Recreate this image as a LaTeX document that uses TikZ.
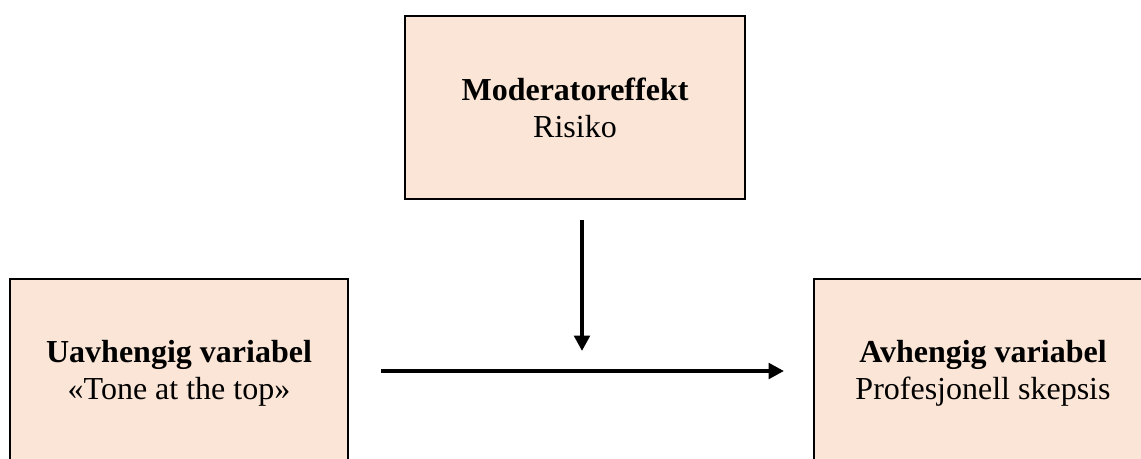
\documentclass[tikz,border=0pt]{standalone}
\usepackage{fontspec}
\setmainfont{Liberation Serif}
\usetikzlibrary{arrows.meta}
\definecolor{boxfill}{HTML}{FBE5D6}
\tikzset{
  varbox/.style={draw=black, line width=1.5pt, fill=boxfill, align=center,
    font=\fontsize{24}{27.75}\selectfont, inner sep=0pt},
  conn/.style={line width=3pt, -{Triangle[width=11.5pt,length=11.5pt]}}
}
\begin{document}
\begin{tikzpicture}[x=0.75pt,y=-0.75pt]
\useasboundingbox (0,0) rectangle (1141,458);
\clip (0,0) rectangle (1141,458);
\node[varbox, minimum width=255pt, minimum height=137.25pt] (mod) at (575,107.5)
  {\textbf{Moderatoreffekt}\\Risiko};
\node[varbox, minimum width=253.5pt, minimum height=141pt] (uav) at (179,373)
  {\textbf{Uavhengig variabel}\\«Tone at the top»};
\node[varbox, minimum width=253.5pt, minimum height=141pt] (avh) at (983,373)
  {\textbf{Avhengig variabel}\\Profesjonell skepsis};
\coordinate (vtop) at (582,220);
\coordinate (vbot) at (582,351);
\coordinate (hl) at (381,371);
\coordinate (hr) at (784,371);
\draw[conn] (vtop) -- (vbot);
\draw[conn] (hl) -- (hr);
\end{tikzpicture}
\end{document}
